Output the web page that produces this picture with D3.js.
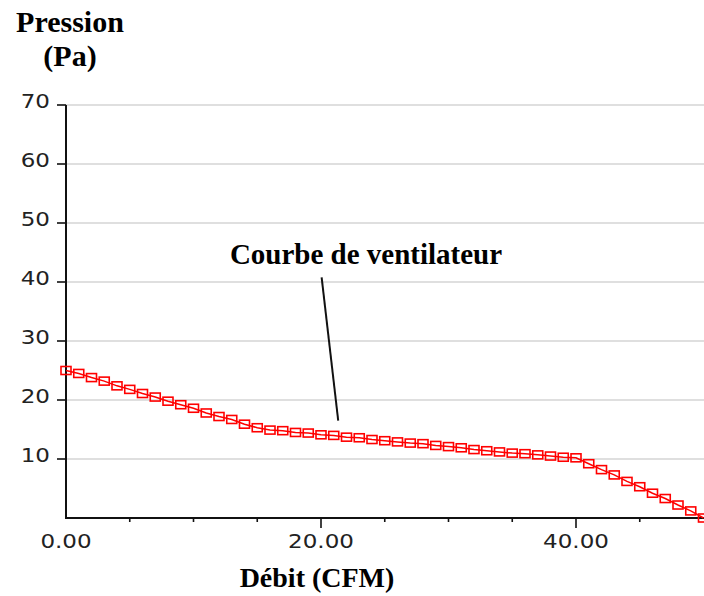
<!DOCTYPE html>
<html>
<head>
<meta charset="utf-8">
<script src="https://cdn.jsdelivr.net/npm/d3@7"></script>
<style>
  html, body { margin: 0; padding: 0; background: #fff; }
  svg { display: block; }
</style>
</head>
<body>
<svg id="chart"></svg>
<script>
const width = 704, height = 596;
const margin = { top: 105, right: 0.5, bottom: 78, left: 66 };

// Fan curve: flow (CFM) vs pressure (Pa), one point per CFM
const flowValues = d3.range(0, 51);
const pressureValues = [
  25.0, 24.5, 23.8, 23.2, 22.4, 21.8, 21.1, 20.5, 19.8, 19.2,
  18.6, 17.8, 17.2, 16.7, 15.9, 15.3, 14.9, 14.8, 14.5, 14.4,
  14.1, 14.0, 13.7, 13.6, 13.3, 13.1, 12.9, 12.7, 12.6, 12.3,
  12.1, 11.9, 11.6, 11.4, 11.2, 11.0, 10.9, 10.7, 10.5, 10.3,
  10.2, 9.2, 8.2, 7.3, 6.2, 5.3, 4.2, 3.3, 2.2, 1.2,
  0.0
];

// Axis ticks
const yTicks = [10, 20, 30, 40, 50, 60, 70];
const xMinorTicks = [5, 10, 15, 25, 30, 35, 45];
const xMajorTicks = [20, 40];
const xLabels = [0, 20, 40];

// Label pointer (data units)
const pointerFrom = { flow: 20.05, pressure: 40.8 };
const pointerTo = { flow: 21.35, pressure: 16.5 };

const svg = d3.select("#chart")
  .attr("width", width)
  .attr("height", height);

const xScale = d3.scaleLinear().domain([0, 50]).range([margin.left, width - margin.right]);
const yScale = d3.scaleLinear().domain([0, 70]).range([height - margin.bottom, margin.top]);

const tickFont = "'DejaVu Sans', Verdana, sans-serif";
const titleFont = "'Liberation Serif', 'Times New Roman', serif";

// Horizontal gridlines
svg.append("g")
  .selectAll("line")
  .data(yTicks)
  .enter()
  .append("line")
  .attr("x1", xScale(0))
  .attr("x2", width)
  .attr("y1", d => yScale(d))
  .attr("y2", d => yScale(d))
  .attr("stroke", "#d4d4d4")
  .attr("stroke-width", 1.6);

// Y axis ticks and labels (labels are a bit wide in the original)
svg.append("g")
  .selectAll("line")
  .data(yTicks)
  .enter()
  .append("line")
  .attr("x1", xScale(0) - 9).attr("x2", xScale(0))
  .attr("y1", d => yScale(d)).attr("y2", d => yScale(d))
  .attr("stroke", "#111")
  .attr("stroke-width", 1.6);

svg.append("g")
  .selectAll("text")
  .data(yTicks)
  .enter()
  .append("text")
  .attr("transform", d => `translate(${xScale(0) - 16},${yScale(d) + 3}) scale(1.15,1)`)
  .attr("text-anchor", "end")
  .attr("font-family", tickFont)
  .attr("font-size", 20)
  .attr("fill", "#222")
  .text(d => d);

svg.append("line")
  .attr("x1", xScale(0)).attr("x2", xScale(0))
  .attr("y1", yScale(70)).attr("y2", yScale(0) + 1)
  .attr("stroke", "#111")
  .attr("stroke-width", 2);

// X axis
svg.append("line")
  .attr("x1", xScale(0)).attr("x2", width)
  .attr("y1", yScale(0)).attr("y2", yScale(0))
  .attr("stroke", "#111")
  .attr("stroke-width", 2);

svg.append("g")
  .selectAll("line")
  .data(xMinorTicks)
  .enter()
  .append("line")
  .attr("x1", d => xScale(d)).attr("x2", d => xScale(d))
  .attr("y1", yScale(0)).attr("y2", yScale(0) + 4)
  .attr("stroke", "#111")
  .attr("stroke-width", 1.6);

svg.append("g")
  .selectAll("line")
  .data(xMajorTicks)
  .enter()
  .append("line")
  .attr("x1", d => xScale(d)).attr("x2", d => xScale(d))
  .attr("y1", yScale(0)).attr("y2", yScale(0) + 10)
  .attr("stroke", "#111")
  .attr("stroke-width", 1.6);

svg.append("g")
  .selectAll("text")
  .data(xLabels)
  .enter()
  .append("text")
  .attr("transform", d => `translate(${xScale(d)},${yScale(0) + 30}) scale(1.15,1)`)
  .attr("text-anchor", "middle")
  .attr("font-family", tickFont)
  .attr("font-size", 20)
  .attr("fill", "#222")
  .text(d => d.toFixed(2));

// Fan curve
const points = flowValues.map((f, i) => ({ flow: f, pressure: pressureValues[i] }));

const lineGenerator = d3.line()
  .x(d => xScale(d.flow))
  .y(d => yScale(d.pressure));

svg.append("path")
  .attr("d", lineGenerator(points))
  .attr("fill", "none")
  .attr("stroke", "#ff0000")
  .attr("stroke-width", 1.5);

svg.append("g")
  .selectAll("rect")
  .data(points)
  .enter()
  .append("rect")
  .attr("x", d => xScale(d.flow) - 5)
  .attr("y", d => yScale(d.pressure) - 4)
  .attr("width", 10)
  .attr("height", 8)
  .attr("fill", "none")
  .attr("stroke", "#ff0000")
  .attr("stroke-width", 1.6);

// Pointer from label to curve
svg.append("line")
  .attr("x1", xScale(pointerFrom.flow)).attr("y1", yScale(pointerFrom.pressure))
  .attr("x2", xScale(pointerTo.flow)).attr("y2", yScale(pointerTo.pressure))
  .attr("stroke", "#111")
  .attr("stroke-width", 2);

// Titles
svg.append("text")
  .attr("x", 366)
  .attr("y", 264)
  .attr("text-anchor", "middle")
  .attr("font-family", titleFont)
  .attr("font-weight", "bold")
  .attr("font-size", 29)
  .attr("fill", "#000")
  .text("Courbe de ventilateur");

svg.append("text")
  .attr("x", 70)
  .attr("y", 32)
  .attr("text-anchor", "middle")
  .attr("font-family", titleFont)
  .attr("font-weight", "bold")
  .attr("font-size", 30)
  .attr("fill", "#000")
  .text("Pression");

svg.append("text")
  .attr("x", 70)
  .attr("y", 66)
  .attr("text-anchor", "middle")
  .attr("font-family", titleFont)
  .attr("font-weight", "bold")
  .attr("font-size", 30)
  .attr("fill", "#000")
  .text("(Pa)");

svg.append("text")
  .attr("x", 317)
  .attr("y", 587)
  .attr("text-anchor", "middle")
  .attr("font-family", titleFont)
  .attr("font-weight", "bold")
  .attr("font-size", 28)
  .attr("fill", "#000")
  .text("Débit (CFM)");
</script>
</body>
</html>
